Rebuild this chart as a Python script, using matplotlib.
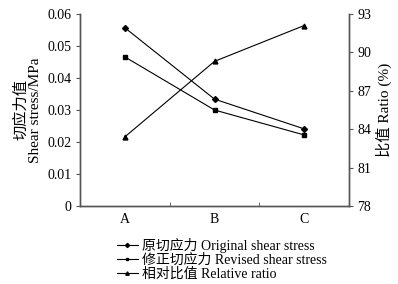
import matplotlib.pyplot as plt
from matplotlib.ticker import FixedLocator

plt.rcParams['font.family'] = ['Liberation Serif', 'Noto Sans CJK SC']
plt.rcParams['font.size'] = 10

categories = ['A', 'B', 'C']
original = [0.0557, 0.0334, 0.0241]
revised = [0.0466, 0.0300, 0.0222]
ratio = [83.4, 89.3, 92.1]

fig = plt.figure(figsize=(3.98, 2.84), dpi=100)
ax = fig.add_axes([80 / 398, 1 - 206 / 284, 269 / 398, 192 / 284])
ax2 = ax.twinx()

x = range(len(categories))
l1, = ax.plot(x, original, color='black', lw=0.8, marker='D', ms=3)
l2, = ax.plot(x, revised, color='black', lw=0.8, marker='s', ms=3)
l3, = ax2.plot(x, ratio, color='black', lw=0.8, marker='^', ms=3.5)

ax.set_xlim(-0.5, 2.5)
ax.set_ylim(0, 0.06)
ax.set_yticks([0, 0.01, 0.02, 0.03, 0.04, 0.05, 0.06])
ax.set_yticklabels(['0', '0.01', '0.02', '0.03', '0.04', '0.05', '0.06'])
ax2.set_ylim(78, 93)
ax2.set_yticks([78, 81, 84, 87, 90, 93])

ax.set_xticks(list(x))
ax.set_xticklabels(categories)
ax.xaxis.set_minor_locator(FixedLocator([0.5, 1.5]))
ax.tick_params(axis='x', which='major', length=0, pad=5)
ax.tick_params(axis='x', which='minor', direction='in', length=3, color='#555555')
ax.tick_params(axis='y', direction='out', length=3, color='#555555', pad=3)
ax2.tick_params(axis='y', direction='out', length=3, color='#555555', pad=3)

for a in (ax, ax2):
    a.spines['top'].set_visible(False)
    for s in ('left', 'right', 'bottom'):
        a.spines[s].set_color('#555555')
        a.spines[s].set_linewidth(1.0)

ax.set_ylabel('切应力值\nShear stress/MPa', fontsize=11, labelpad=4, linespacing=1.1)
ax2.set_ylabel('比值 Ratio (%)', fontsize=11, labelpad=3)

fig.legend([l1, l2, l3],
           ['原切应力 Original shear stress',
            '修正切应力 Revised shear stress',
            '相对比值 Relative ratio'],
           loc='upper left', bbox_to_anchor=(110 / 398, 1 - 231 / 284),
           frameon=False, handlelength=1.5, handletextpad=0.3,
           labelspacing=0.05, borderpad=0, markerscale=0.7)

fig.savefig('out.png', dpi=100)
